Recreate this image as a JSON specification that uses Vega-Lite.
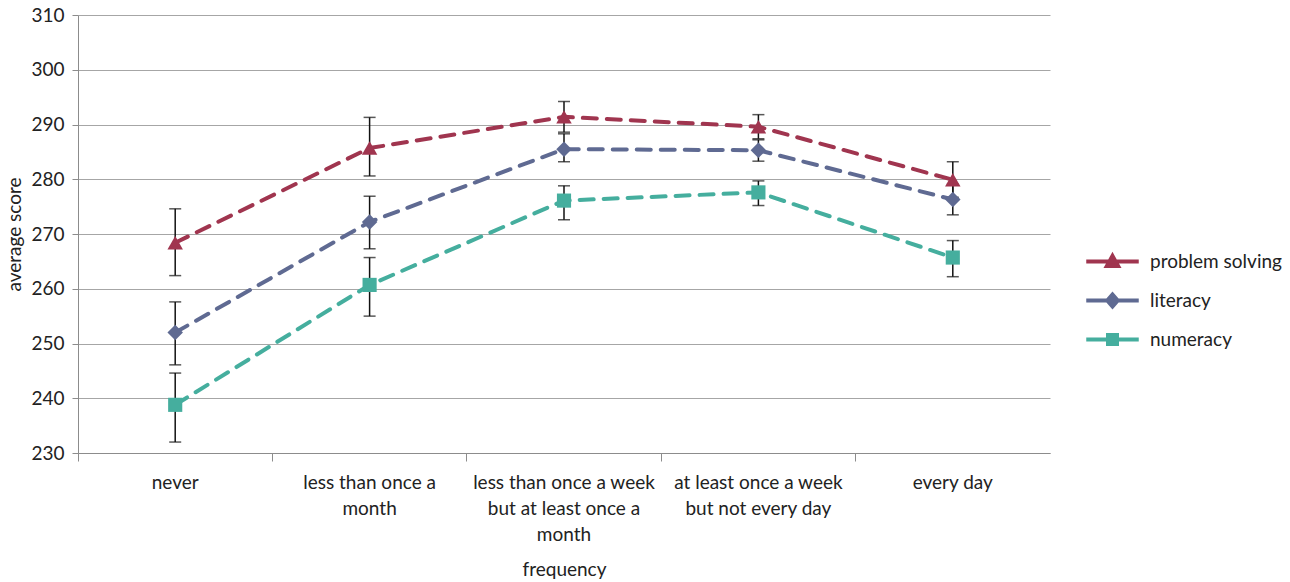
{
  "$schema": "https://vega.github.io/schema/vega-lite/v6.json",
  "width": 972,
  "height": 438,
  "autosize": {"type": "none"},
  "padding": {"left": 78, "top": 15, "right": 240, "bottom": 129},
  "background": "white",
  "config": {
    "font": "Lato",
    "view": {"stroke": null},
    "axis": {"labelFont": "Lato", "titleFont": "Lato", "labelColor": "#222", "titleColor": "#222", "titleFontWeight": "normal"}
  },
  "data": {
    "values": [
      {"freq": "never", "skill": "problem solving", "score": 268.4, "lo": 262.4, "hi": 274.6},
      {"freq": "less than once a month", "skill": "problem solving", "score": 285.7, "lo": 280.6, "hi": 291.3},
      {"freq": "less than once a week but at least once a month", "skill": "problem solving", "score": 291.4, "lo": 288.6, "hi": 294.2},
      {"freq": "at least once a week but not every day", "skill": "problem solving", "score": 289.6, "lo": 287.4, "hi": 291.8},
      {"freq": "every day", "skill": "problem solving", "score": 279.9, "lo": 276.7, "hi": 283.2},
      {"freq": "never", "skill": "literacy", "score": 252.0, "lo": 246.1, "hi": 257.6},
      {"freq": "less than once a month", "skill": "literacy", "score": 272.2, "lo": 267.3, "hi": 276.9},
      {"freq": "less than once a week but at least once a month", "skill": "literacy", "score": 285.5, "lo": 283.2, "hi": 288.3},
      {"freq": "at least once a week but not every day", "skill": "literacy", "score": 285.3, "lo": 283.3, "hi": 287.2},
      {"freq": "every day", "skill": "literacy", "score": 276.3, "lo": 273.5, "hi": 279.1},
      {"freq": "never", "skill": "numeracy", "score": 238.8, "lo": 232.0, "hi": 244.6},
      {"freq": "less than once a month", "skill": "numeracy", "score": 260.7, "lo": 255.0, "hi": 265.7},
      {"freq": "less than once a week but at least once a month", "skill": "numeracy", "score": 276.1, "lo": 272.6, "hi": 278.8},
      {"freq": "at least once a week but not every day", "skill": "numeracy", "score": 277.6, "lo": 275.2, "hi": 279.7},
      {"freq": "every day", "skill": "numeracy", "score": 265.7, "lo": 262.2, "hi": 268.8}
    ]
  },
  "encoding": {
    "x": {
      "field": "freq", "type": "nominal", "sort": null,
      "scale": {"type": "band", "paddingInner": 0, "paddingOuter": 0},
      "axis": {
        "title": "frequency", "titleFontSize": 19, "titlePadding": 16,
        "labelAngle": 0, "labelFontSize": 19, "labelLineHeight": 26, "labelPadding": 12, "labelBaseline": "top",
        "labelExpr": "datum.label == 'less than once a month' ? ['less than once a', 'month'] : datum.label == 'less than once a week but at least once a month' ? ['less than once a week', 'but at least once a', 'month'] : datum.label == 'at least once a week but not every day' ? ['at least once a week', 'but not every day'] : datum.label",
        "bandPosition": 0, "ticks": true, "tickSize": 8, "tickColor": "#8c8c8c", "domainColor": "#8c8c8c", "labelLimit": 0, "grid": false
      }
    }
  },
  "layer": [
    {
      "mark": {"type": "rule", "color": "#111", "strokeWidth": 1.5},
      "encoding": {
        "y": {"field": "lo", "type": "quantitative"},
        "y2": {"field": "hi"}
      }
    },
    {
      "mark": {"type": "tick", "color": "#111", "size": 12, "thickness": 1.5},
      "encoding": {"y": {"field": "lo", "type": "quantitative"}}
    },
    {
      "mark": {"type": "tick", "color": "#111", "size": 12, "thickness": 1.5},
      "encoding": {"y": {"field": "hi", "type": "quantitative"}}
    },
    {
      "mark": {"type": "line", "strokeWidth": 4, "strokeDash": [14, 10], "strokeCap": "round"},
      "encoding": {
        "y": {
          "field": "score", "type": "quantitative",
          "scale": {"domain": [230, 310], "nice": false, "zero": false},
          "axis": {
            "title": "average score", "titleFontSize": 19, "titlePadding": 6,
            "values": [230, 240, 250, 260, 270, 280, 290, 300, 310],
            "labelFontSize": 19, "labelPadding": 8,
            "grid": true, "gridColor": "#a6a6a6", "gridWidth": 1,
            "domainColor": "#8c8c8c", "tickColor": "#8c8c8c", "tickSize": 6
          }
        },
        "color": {
          "field": "skill", "type": "nominal",
          "scale": {"domain": ["problem solving", "literacy", "numeracy"], "range": ["#A0354F", "#5F6A92", "#45AE9E"]},
          "legend": {
            "title": null, "orient": "none", "legendX": 1025, "legendY": 237,
            "labelFontSize": 19, "labelColor": "#222", "labelOffset": 28,
            "symbolSize": 225, "rowPadding": 12, "padding": 0,
            "encode": {
              "symbols": {
                "update": {
                  "shape": {"signal": "datum.value === 'problem solving' ? 'M-3.5,0H3.5M0,-0.75L0.75,0.6L-0.75,0.6Z' : datum.value === 'literacy' ? 'M-3.5,0H3.5M0,-0.8L0.7,0L0,0.8L-0.7,0Z' : 'M-3.5,0H3.5M-0.6,-0.6H0.6V0.6H-0.6Z'"},
                  "strokeWidth": {"value": 4},
                  "strokeDash": {"value": []},
                  "fill": {"scale": "color", "field": "value"},
                  "stroke": {"scale": "color", "field": "value"},
                  "opacity": {"value": 1}
                }
              }
            }
          }
        }
      }
    },
    {
      "transform": [{"filter": "datum.skill === 'problem solving'"}],
      "mark": {"type": "point", "filled": true, "opacity": 1, "shape": "triangle-up", "size": 240},
      "encoding": {
        "y": {"field": "score", "type": "quantitative"},
        "color": {"field": "skill", "type": "nominal"}
      }
    },
    {
      "transform": [{"filter": "datum.skill === 'literacy'"}],
      "mark": {"type": "point", "filled": true, "opacity": 1, "shape": "diamond", "size": 240},
      "encoding": {
        "y": {"field": "score", "type": "quantitative"},
        "color": {"field": "skill", "type": "nominal"}
      }
    },
    {
      "transform": [{"filter": "datum.skill === 'numeracy'"}],
      "mark": {"type": "point", "filled": true, "opacity": 1, "shape": "square", "size": 200},
      "encoding": {
        "y": {"field": "score", "type": "quantitative"},
        "color": {"field": "skill", "type": "nominal"}
      }
    }
  ]
}
